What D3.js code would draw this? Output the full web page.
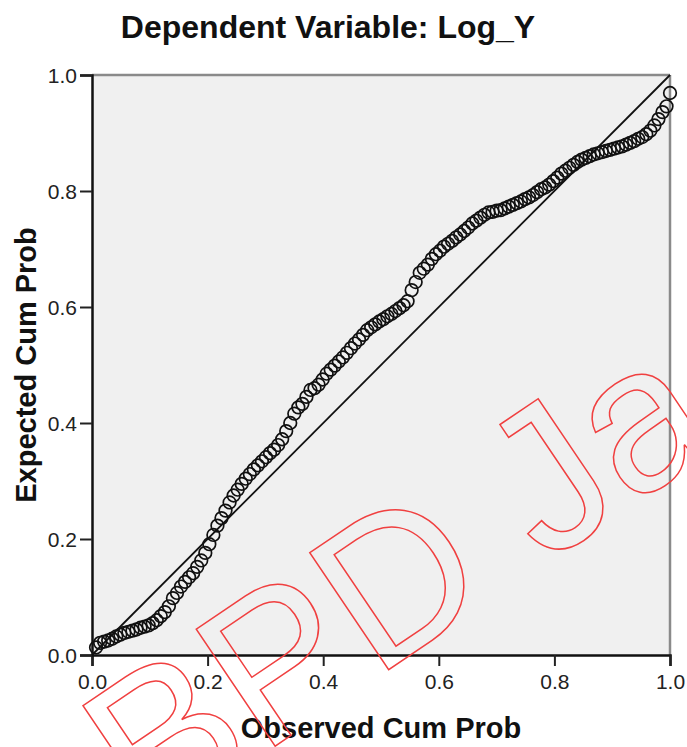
<!DOCTYPE html>
<html>
<head>
<meta charset="utf-8">
<script src="https://cdn.jsdelivr.net/npm/d3@7"></script>
<style>
  body { margin: 0; background: #fff; }
  svg { display: block; }
</style>
</head>
<body>
<script>
var title = "Dependent Variable: Log_Y";
var xLabel = "Observed Cum Prob";
var yLabel = "Expected Cum Prob";
var ticks = [0, 0.2, 0.4, 0.6, 0.8, 1.0];

var observedCumProb = [
  0.007, 0.014, 0.021, 0.028, 0.035, 0.042, 0.049, 0.056, 0.063, 0.070,
  0.077, 0.084, 0.091, 0.098, 0.105, 0.112, 0.119, 0.126, 0.133, 0.140,
  0.147, 0.154, 0.161, 0.168, 0.175, 0.182, 0.189, 0.196, 0.203, 0.210,
  0.217, 0.224, 0.231, 0.238, 0.245, 0.252, 0.259, 0.266, 0.273, 0.280,
  0.287, 0.294, 0.301, 0.308, 0.315, 0.322, 0.329, 0.336, 0.343, 0.350,
  0.357, 0.364, 0.371, 0.378, 0.385, 0.392, 0.399, 0.406, 0.413, 0.420,
  0.427, 0.434, 0.441, 0.448, 0.455, 0.462, 0.469, 0.476, 0.483, 0.490,
  0.497, 0.504, 0.511, 0.518, 0.525, 0.532, 0.539, 0.546, 0.553, 0.560,
  0.567, 0.574, 0.581, 0.588, 0.595, 0.602, 0.609, 0.616, 0.623, 0.630,
  0.637, 0.644, 0.651, 0.658, 0.665, 0.672, 0.679, 0.686, 0.693, 0.700,
  0.707, 0.714, 0.721, 0.728, 0.735, 0.742, 0.749, 0.756, 0.763, 0.770,
  0.777, 0.784, 0.791, 0.798, 0.805, 0.812, 0.819, 0.826, 0.833, 0.840,
  0.847, 0.854, 0.861, 0.868, 0.875, 0.882, 0.889, 0.896, 0.903, 0.910,
  0.917, 0.924, 0.931, 0.938, 0.945, 0.952, 0.959, 0.966, 0.973, 0.980,
  0.987, 0.994, 1.000
];
var expectedCumProb = [
  0.013, 0.021, 0.023, 0.025, 0.028, 0.032, 0.035, 0.038, 0.040, 0.042,
  0.044, 0.047, 0.049, 0.051, 0.055, 0.060, 0.067, 0.074, 0.084, 0.098,
  0.107, 0.118, 0.126, 0.134, 0.141, 0.152, 0.163, 0.176, 0.191, 0.207,
  0.223, 0.236, 0.249, 0.263, 0.275, 0.285, 0.295, 0.304, 0.312, 0.320,
  0.327, 0.334, 0.341, 0.348, 0.354, 0.362, 0.372, 0.386, 0.400, 0.416,
  0.427, 0.433, 0.445, 0.457, 0.460, 0.466, 0.475, 0.485, 0.492, 0.499,
  0.506, 0.513, 0.521, 0.529, 0.537, 0.544, 0.552, 0.560, 0.565, 0.570,
  0.575, 0.579, 0.584, 0.588, 0.593, 0.598, 0.603, 0.610, 0.629, 0.643,
  0.659, 0.666, 0.673, 0.683, 0.691, 0.697, 0.704, 0.709, 0.714, 0.720,
  0.725, 0.731, 0.737, 0.744, 0.749, 0.754, 0.759, 0.763, 0.764, 0.766,
  0.767, 0.770, 0.773, 0.776, 0.779, 0.782, 0.786, 0.789, 0.793, 0.798,
  0.803, 0.806, 0.811, 0.817, 0.823, 0.830, 0.835, 0.840, 0.845, 0.850,
  0.854, 0.857, 0.860, 0.863, 0.865, 0.867, 0.869, 0.871, 0.873, 0.875,
  0.877, 0.880, 0.883, 0.886, 0.890, 0.893, 0.898, 0.904, 0.913, 0.924,
  0.936, 0.946, 0.969
];
var watermark = "BPD Ja";

var width = 687,
    height = 747;
var plotLeft = 92, plotRight = 670, plotTop = 75, plotBottom = 655;

var svg = d3.select('body').append('svg')
            .attr('width', width).attr('height', height)
            .style('font-family', '"Liberation Sans", Arial, sans-serif');

var x = d3.scaleLinear().domain([0, 1]).range([plotLeft, plotRight]);
var y = d3.scaleLinear().domain([0, 1]).range([plotBottom, plotTop]);

// plot background
svg.append('rect')
   .attr('x', plotLeft).attr('y', plotTop)
   .attr('width', plotRight - plotLeft).attr('height', plotBottom - plotTop)
   .attr('fill', '#f0f0f0');

// top and right frame (gray)
svg.append('line')
   .attr('x1', plotLeft).attr('x2', plotRight).attr('y1', plotTop).attr('y2', plotTop)
   .attr('stroke', '#8a8a8a').attr('stroke-width', 2.5);
svg.append('line')
   .attr('x1', plotRight).attr('x2', plotRight).attr('y1', plotTop).attr('y2', plotBottom)
   .attr('stroke', '#8a8a8a').attr('stroke-width', 2.5);

// reference diagonal
svg.append('line')
   .attr('x1', x(0)).attr('y1', y(0)).attr('x2', x(1)).attr('y2', y(1))
   .attr('stroke', '#111').attr('stroke-width', 1.8);

// points
var pts = observedCumProb.map(function(d, i) { return [d, expectedCumProb[i]]; });
svg.append('g').selectAll('circle')
   .data(pts)
   .enter().append('circle')
   .attr('cx', function(d) { return x(d[0]); })
   .attr('cy', function(d) { return y(d[1]); })
   .attr('r', 6.3)
   .attr('fill', 'none')
   .attr('stroke', '#111')
   .attr('stroke-width', 1.7);

// axes
var xAxis = svg.append('g')
   .attr('transform', 'translate(0,' + plotBottom + ')')
   .call(d3.axisBottom(x).tickValues(ticks).tickFormat(d3.format('.1f')).tickSize(11).tickPadding(8));
var yAxis = svg.append('g')
   .attr('transform', 'translate(' + plotLeft + ',0)')
   .call(d3.axisLeft(y).tickValues(ticks).tickFormat(d3.format('.1f')).tickSize(12).tickPadding(3));

[xAxis, yAxis].forEach(function(g) {
  g.select('.domain').attr('stroke', '#111').attr('stroke-width', 2.5);
  g.selectAll('.tick line').attr('stroke', '#222').attr('stroke-width', 2);
  g.selectAll('.tick text')
   .attr('fill', '#222')
   .style('font-size', '21px')
   .style('font-family', '"Liberation Sans", Arial, sans-serif');
});
yAxis.selectAll('.tick text').attr('dy', '0.36em');

// titles
svg.append('text')
   .attr('x', 328).attr('y', 38)
   .attr('text-anchor', 'middle')
   .style('font-size', '32px').style('font-weight', 'bold')
   .attr('fill', '#111')
   .text(title);

svg.append('text')
   .attr('x', (plotLeft + plotRight) / 2).attr('y', 738)
   .attr('text-anchor', 'middle')
   .style('font-size', '29px').style('font-weight', 'bold')
   .attr('fill', '#111')
   .text(xLabel);

svg.append('text')
   .attr('transform', 'translate(36,' + ((plotTop + plotBottom) / 2) + ') rotate(-90)')
   .attr('text-anchor', 'middle')
   .style('font-size', '29px').style('font-weight', 'bold')
   .attr('fill', '#111')
   .text(yLabel);

// watermark
svg.append('text')
   .attr('transform', 'translate(148,832) rotate(-34)')
   .style('font-size', '205px')
   .attr('fill', 'none')
   .attr('stroke', '#f04040')
   .attr('stroke-width', 1.5)
   .text(watermark);
</script>
</body>
</html>
